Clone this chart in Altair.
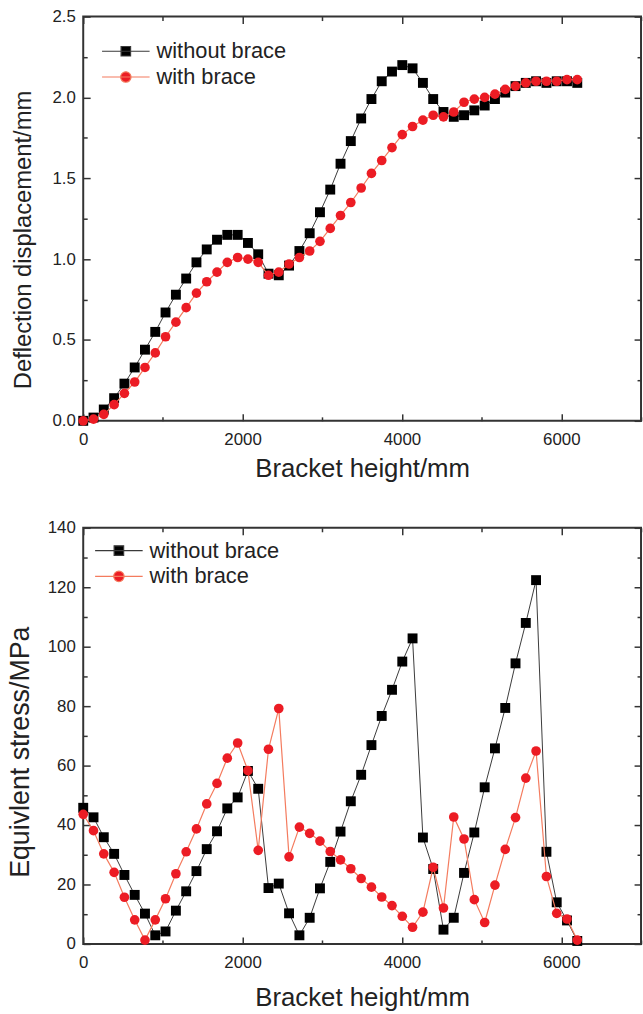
import altair as alt
import pandas as pd

# ---------------- data ----------------
height_mm = [0, 129, 258, 388, 517, 646, 775, 904, 1033, 1163, 1292, 1421, 1550,
             1679, 1808, 1938, 2067, 2196, 2325, 2454, 2583, 2713, 2842, 2971,
             3100, 3229, 3358, 3488, 3617, 3746, 3875, 4004, 4133, 4263, 4392,
             4521, 4650, 4779, 4908, 5038, 5167, 5296, 5425, 5554, 5683, 5813,
             5942, 6071, 6200]

defl_without = [0.00, 0.02, 0.07, 0.14, 0.23, 0.33, 0.44, 0.55, 0.67, 0.78, 0.88,
                0.98, 1.06, 1.12, 1.15, 1.15, 1.10, 1.03, 0.91, 0.90, 0.96, 1.05,
                1.16, 1.29, 1.43, 1.59, 1.73, 1.87, 1.99, 2.10, 2.16, 2.20, 2.18,
                2.09, 1.99, 1.91, 1.88, 1.89, 1.92, 1.95, 1.99, 2.03, 2.07, 2.09,
                2.10, 2.09, 2.10, 2.10, 2.09]
defl_with = [0.00, 0.01, 0.04, 0.10, 0.17, 0.24, 0.33, 0.42, 0.52, 0.61, 0.70,
             0.79, 0.86, 0.92, 0.98, 1.01, 1.00, 0.98, 0.90, 0.92, 0.97, 1.01,
             1.05, 1.11, 1.19, 1.27, 1.35, 1.44, 1.53, 1.61, 1.69, 1.77, 1.82,
             1.86, 1.89, 1.88, 1.91, 1.97, 1.99, 2.00, 2.02, 2.05, 2.07, 2.09,
             2.10, 2.10, 2.10, 2.11, 2.11]

stress_without = [45.8, 42.6, 35.9, 30.3, 23.2, 16.5, 10.2, 2.9, 4.2, 11.2, 17.7,
                  24.5, 31.9, 37.9, 45.6, 49.3, 58.2, 52.2, 18.8, 20.3, 10.3, 2.9,
                  8.8, 18.7, 27.6, 37.8, 48.0, 56.9, 66.9, 76.7, 85.5, 95.0, 102.8,
                  35.8, 25.2, 4.8, 8.8, 23.9, 37.5, 52.7, 65.8, 79.4, 94.4, 108.0,
                  122.4, 31.0, 14.0, 7.9, 1.0]
stress_with = [43.6, 38.1, 30.3, 24.1, 15.7, 8.1, 1.3, 8.1, 15.2, 23.6, 31.0,
               38.7, 47.1, 54.0, 62.5, 67.6, 58.3, 31.5, 65.5, 79.2, 29.3, 39.3,
               37.2, 34.6, 31.1, 28.3, 25.3, 22.0, 19.1, 15.8, 12.9, 9.3, 5.6,
               10.7, 25.8, 12.1, 42.7, 35.3, 14.9, 7.2, 19.8, 31.8, 42.5, 55.8,
               64.9, 22.7, 10.3, 8.4, 1.3]

series_names = ["without brace", "with brace"]

x_major = [0, 2000, 4000, 6000]
x_minor = [1000, 3000, 5000, 7000]
defl_major = [0, 0.5, 1.0, 1.5, 2.0, 2.5]
defl_minor = [0.25, 0.75, 1.25, 1.75, 2.25]
stress_major = [0, 20, 40, 60, 80, 100, 120, 140]
stress_minor = [10, 30, 50, 70, 90, 110, 130]

# ---------------- styling ----------------
FONT = "Liberation Sans"
TXT = "#222222"
AX = "#333333"
BLACK_MARK = "#000000"
BLACK_LINE = "#3a3a3a"
RED_MARK = "#ec1c24"
RED_LINE = "#f47b5e"

SQUARE_KEY = "M-1,0H1M-0.2,-0.2H0.2V0.2H-0.2Z"
CIRCLE_KEY = "M-1,0H1M0.22,0A0.22,0.22,0,1,1,-0.22,0A0.22,0.22,0,1,1,0.22,0Z"

PLOT_W = 563


def panel(without, with_, ydomain, ymaj, ymin, yfmt, ytitle, ytitle_size,
          ytitle_y, ytitle_pad, xtitle_pad, legend_x, legend_y, height):
    n = len(height_mm)
    df = pd.DataFrame({
        "x": height_mm + height_mm,
        "y": without + with_,
        "series": [series_names[0]] * n + [series_names[1]] * n,
    })
    base = alt.Chart(df)
    xs = alt.Scale(domain=[0, 7000], nice=False, zero=False)
    ys = alt.Scale(domain=ydomain, nice=False, zero=False)

    def X(axis):
        return alt.X("x:Q", scale=xs, axis=axis)

    def Y(axis):
        return alt.Y("y:Q", scale=ys, axis=axis)

    main_x = alt.Axis(orient="bottom", values=x_major, offset=-7, tickSize=7,
                      labelPadding=11, format="d", title="Bracket height/mm",
                      titleFontSize=26, titlePadding=xtitle_pad)
    main_y = alt.Axis(orient="left", values=ymaj, offset=-7, tickSize=7,
                      labelPadding=8, format=yfmt, title=ytitle,
                      titleFontSize=ytitle_size, titlePadding=ytitle_pad,
                      titleY=ytitle_y)

    black = base.transform_filter(alt.datum.series == series_names[0])
    red = base.transform_filter(alt.datum.series == series_names[1])

    line_black = black.mark_line(color=BLACK_LINE, strokeWidth=1).encode(
        x=X(main_x), y=Y(main_y))
    pts_black = black.mark_point(shape="square", filled=True, color=BLACK_MARK,
                                 size=100, opacity=1).encode(x=X(None), y=Y(None))
    line_red = red.mark_line(color=RED_LINE, strokeWidth=1.2).encode(
        x=X(None), y=Y(None))
    pts_red = red.mark_point(shape="circle", filled=True, color=RED_MARK,
                             size=95, opacity=1).encode(x=X(None), y=Y(None))

    leg = alt.Legend(orient="none", legendX=legend_x, legendY=legend_y,
                     title=None, symbolSize=2304, symbolStrokeWidth=1.2,
                     symbolOpacity=1, labelFontSize=22, labelFont=FONT,
                     labelColor=TXT, labelOffset=6, clipHeight=26,
                     rowPadding=0, padding=0)
    key = base.transform_filter("false").mark_point(
        strokeWidth=1.2, opacity=1).encode(
        x=X(None), y=Y(None),
        shape=alt.Shape("series:N", legend=leg,
                        scale=alt.Scale(domain=series_names,
                                        range=[SQUARE_KEY, CIRCLE_KEY])),
        fill=alt.Fill("series:N", legend=leg,
                      scale=alt.Scale(domain=series_names,
                                      range=[BLACK_MARK, RED_MARK])),
        stroke=alt.Stroke("series:N", legend=leg,
                          scale=alt.Scale(domain=series_names,
                                          range=[BLACK_LINE, RED_LINE])),
    )

    empty = base.transform_filter("false").mark_point()
    minor = empty.encode(
        x=X(alt.Axis(orient="bottom", values=x_minor, offset=-4, tickSize=4,
                     labels=False, title=None)),
        y=Y(alt.Axis(orient="left", values=ymin, offset=-4, tickSize=4,
                     labels=False, title=None)))
    top_major = empty.encode(
        x=X(alt.Axis(orient="top", values=x_major, offset=-7, tickSize=7,
                     labels=False, title=None)),
        y=Y(alt.Axis(orient="right", values=ymaj, offset=-7, tickSize=7,
                     labels=False, title=None)))
    top_minor = empty.encode(
        x=X(alt.Axis(orient="top", values=x_minor, offset=-4, tickSize=4,
                     labels=False, title=None)),
        y=Y(alt.Axis(orient="right", values=ymin, offset=-4, tickSize=4,
                     labels=False, title=None)))

    return alt.layer(line_black, pts_black, line_red, pts_red, key, minor,
                     top_major, top_minor).resolve_axis(
        x="independent", y="independent").properties(width=PLOT_W, height=height)


top = panel(defl_without, defl_with, [0, 2.5], defl_major, defl_minor, ".1f",
            "Deflection displacement/mm", 24, 225, 17, 8, 18, 22, 408)
bottom = panel(stress_without, stress_with, [0, 140], stress_major, stress_minor,
               "d", "Equivlent stress/MPa", 27, 226, 13, 14, 11, 10, 420)

chart = alt.vconcat(top, bottom, spacing=108, bounds="flush").resolve_scale(
    shape="independent", fill="independent", stroke="independent"
).resolve_legend(
    shape="independent", fill="independent", stroke="independent"
).properties(
    padding={"left": 5, "top": 2, "right": 0, "bottom": 0},
    background="white",
).configure_axis(
    labelFont=FONT, titleFont=FONT, labelFontSize=17, labelColor=TXT,
    titleColor=TXT, titleFontWeight="normal", tickColor=AX, tickWidth=1.5,
    domain=False, grid=False, labelFlush=False,
).configure_view(stroke=AX, strokeWidth=2)

chart.save("out.html", embed_options={"renderer": "svg", "actions": False})
